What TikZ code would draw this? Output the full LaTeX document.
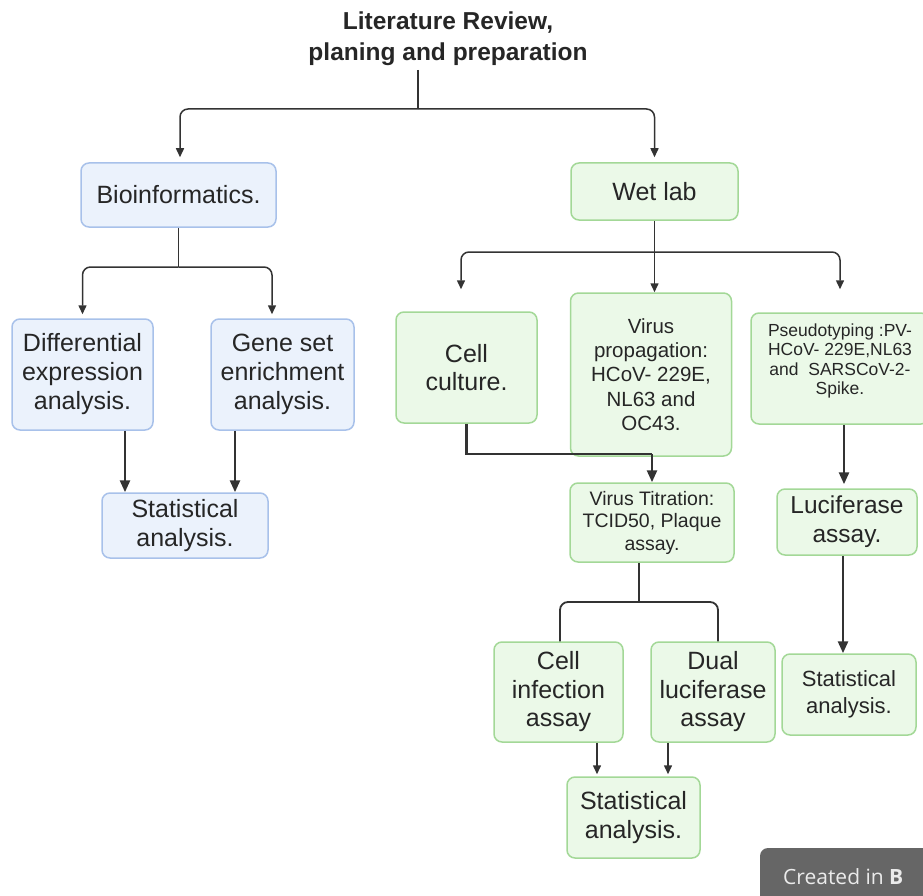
\documentclass[tikz,border=0pt]{standalone}
\usepackage{fontspec}
\setmainfont{Liberation Sans}
\newfontfamily\badgefont{Open Sans}
\usetikzlibrary{arrows.meta}
\definecolor{bfill}{HTML}{EBF2FC}
\definecolor{bdraw}{HTML}{A8C1EA}
\definecolor{gfill}{HTML}{EBF9E8}
\definecolor{gdraw}{HTML}{A3D897}
\definecolor{ln}{HTML}{333333}
\definecolor{txt}{HTML}{262626}
\definecolor{badgec}{HTML}{666666}
\begin{document}
\begin{tikzpicture}[x=1pt,y=-1pt,
  box/.style={draw, line width=1.5pt, rounded corners=8pt, align=center, inner sep=0pt, text=txt},
  bluebox/.style={box, fill=bfill, draw=bdraw},
  greenbox/.style={box, fill=gfill, draw=gdraw},
  fsz/.style 2 args={font=\fontsize{#1}{#2}\selectfont},
  thin/.style={draw=ln, line width=1.5pt},
  thinarr/.style={thin, -{Triangle[length=9pt,width=8pt]}},
  thick/.style={draw=ln, line width=2.6pt},
  thickarr/.style={thick, -{Triangle[length=12pt,width=10pt]}},
]
\useasboundingbox (0,0) rectangle (923,896);
\clip (0,0) rectangle (923,896);

% title
\node[align=center, text=txt, font=\bfseries\fontsize{24.5}{31}\selectfont] (title) at (448,39) {Literature Review,\\planing and preparation};

% bioinformatics branch
\node[bluebox, minimum width=195pt, minimum height=64pt, fsz={25}{29}] (bio) at (178.5,195) {Bioinformatics.};
\node[bluebox, minimum width=141pt, minimum height=111pt, fsz={25}{29}] (diff) at (82.5,374.5) {Differential\\expression\\analysis.};
\node[bluebox, minimum width=143pt, minimum height=111pt, fsz={25}{29}] (gene) at (282.5,374.5) {Gene set\\enrichment\\analysis.};
\node[bluebox, minimum width=166pt, minimum height=65pt, fsz={25}{29}] (statL) at (185,525.5) {Statistical\\analysis.};

% wet lab branch
\node[greenbox, minimum width=167pt, minimum height=57pt, fsz={25}{29}] (wet) at (654.5,191.5) {Wet lab};
\node[greenbox, minimum width=141pt, minimum height=111pt, fsz={25}{28}] (cell) at (466.5,367.5) {Cell\\culture.};
\node[greenbox, minimum width=161pt, minimum height=163pt, fsz={20.5}{24.3}] (vprop) at (651,374.5) {Virus\\propagation:\\HCoV- 229E,\\NL63 and\\OC43.};
\node[greenbox, minimum width=178pt, minimum height=111pt, fsz={17.5}{19.5}] (pseudo) at (840,368.5) {\raisebox{7pt}[\height][\depth]{\begin{tabular}{@{}c@{}}Pseudotyping :PV-\\HCoV- 229E,NL63\\and\ \ SARSCoV-2-\\Spike.\end{tabular}}};
\node[greenbox, minimum width=164pt, minimum height=79pt, fsz={19.5}{22.5}] (titr) at (652,522.5) {Virus Titration:\\TCID50, Plaque\\assay.};
\node[greenbox, minimum width=140pt, minimum height=66pt, fsz={24.5}{29}] (luc) at (847,522) {Luciferase\\assay.};
\node[greenbox, minimum width=129pt, minimum height=100pt, fsz={25}{28.5}] (infect) at (558.5,692) {Cell\\infection\\assay};
\node[greenbox, minimum width=124pt, minimum height=100pt, fsz={25}{28.5}] (dual) at (713,692) {Dual\\luciferase\\assay};
\node[greenbox, minimum width=134pt, minimum height=81pt, fsz={22}{26.5}] (statR) at (849,694.5) {Statistical\\analysis.};
\node[greenbox, minimum width=133pt, minimum height=81pt, fsz={25}{29}] (statB) at (633.5,817.5) {Statistical\\analysis.};

% junctions
\coordinate (j1) at (418,109);
\coordinate (j2) at (178.5,267);
\coordinate (j3) at (654.5,252);
\coordinate (j4) at (652,454);
\coordinate (j5) at (639,602);

% title -> branches
\draw[thin] (418,70) -- (j1);
\draw[thinarr, rounded corners=8pt, shorten >=5pt] (j1) -| ([xshift=1.5pt]bio.north);
\draw[thinarr, rounded corners=8pt, shorten >=5pt] (j1) -| (wet.north);

% bioinformatics
\draw[thin] (bio.south) -- (j2);
\draw[thinarr, rounded corners=8pt, shorten >=4pt] (j2) -| (diff.north);
\draw[thinarr, rounded corners=8pt, shorten >=4pt] (j2) -| ([xshift=-10.5pt]gene.north);
\draw[thickarr] ([xshift=42.5pt]diff.south) -- ([xshift=-60pt]statL.north);
\draw[thickarr] ([xshift=-47.5pt]gene.south) -- ([xshift=50pt]statL.north);

% wet lab
\draw[thinarr] (wet.south) -- (wet.south |- vprop.north);
\draw[thinarr, rounded corners=8pt, shorten >=22pt] (j3) -| ([xshift=-5.5pt]cell.north);
\draw[thinarr, rounded corners=8pt, shorten >=23pt] (j3) -| (pseudo.north);
\draw[thick] (cell.south) |- (j4);
\draw[thickarr] (j4) -- (titr.north);
\draw[thickarr, shorten >=4pt] ([xshift=4pt]pseudo.south) -- ([xshift=-3pt]luc.north);
\draw[thickarr] ([xshift=-4pt]luc.south) -- ([xshift=-6pt]statR.north);
\draw[draw=ln, line width=1.8pt] ([xshift=-13pt]titr.south) -- (j5);
\draw[draw=ln, line width=1.8pt, rounded corners=8pt] (j5) -| ([xshift=1.5pt]infect.north);
\draw[draw=ln, line width=1.8pt, rounded corners=8pt] (j5) -| ([xshift=5pt]dual.north);
\draw[thinarr, shorten >=2pt] ([xshift=38.5pt]infect.south) -- ([xshift=-36.5pt]statB.north);
\draw[thinarr, shorten >=2pt] ([xshift=-45pt]dual.south) -- ([xshift=34.5pt]statB.north);

% badge
\fill[badgec, rounded corners=8pt] (760,848) rectangle (940,910);
\node[anchor=west, text=white!92!black, font=\badgefont\fontsize{21}{25}\selectfont, inner sep=0pt] (badge) at (783,877) {Created in \textbf{B}};
\end{tikzpicture}
\end{document}
